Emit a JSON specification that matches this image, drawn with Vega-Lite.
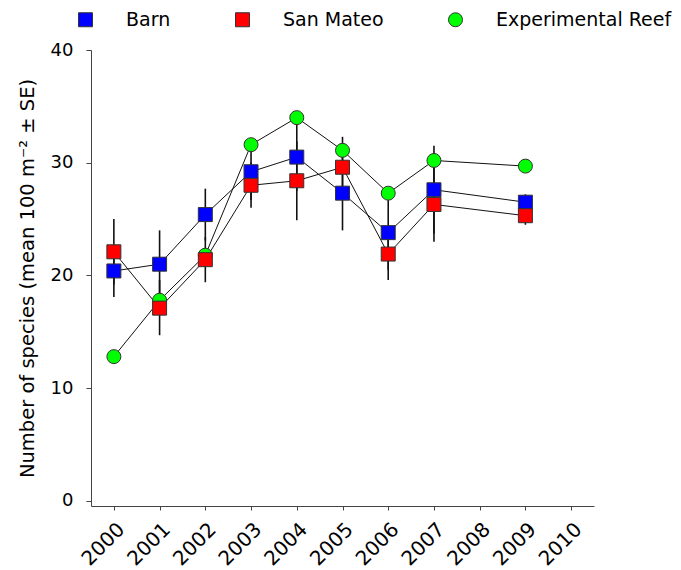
{
  "$schema": "https://vega.github.io/schema/vega-lite/v6.json",
  "autosize": "none",
  "width": 503,
  "height": 456,
  "padding": {"left": 91, "top": 50, "right": 87, "bottom": 64},
  "background": "white",
  "config": {
    "view": {"stroke": null},
    "font": "DejaVu Sans",
    "axis": {
      "grid": false,
      "domainColor": "#444444",
      "tickColor": "#444444",
      "labelColor": "#000000",
      "titleColor": "#000000",
      "labelFont": "DejaVu Sans",
      "titleFont": "DejaVu Sans",
      "titleFontWeight": "normal"
    }
  },
  "data": {
    "values": [
      {"site": "Experimental Reef", "year": 2000, "mean": 12.8},
      {"site": "Experimental Reef", "year": 2001, "mean": 17.8},
      {"site": "Experimental Reef", "year": 2002, "mean": 21.8},
      {"site": "Experimental Reef", "year": 2003, "mean": 31.6},
      {"site": "Experimental Reef", "year": 2004, "mean": 34.0},
      {"site": "Experimental Reef", "year": 2005, "mean": 31.1},
      {"site": "Experimental Reef", "year": 2006, "mean": 27.3},
      {"site": "Experimental Reef", "year": 2007, "mean": 30.2},
      {"site": "Experimental Reef", "year": 2009, "mean": 29.7},
      {"site": "Barn", "year": 2000, "mean": 20.4, "lo": 18.1, "hi": 22.7},
      {"site": "Barn", "year": 2001, "mean": 21.0, "lo": 18.0, "hi": 24.0},
      {"site": "Barn", "year": 2002, "mean": 25.4, "lo": 23.1, "hi": 27.7},
      {"site": "Barn", "year": 2003, "mean": 29.2, "lo": 26.7, "hi": 31.7},
      {"site": "Barn", "year": 2004, "mean": 30.5, "lo": 27.5, "hi": 33.5},
      {"site": "Barn", "year": 2005, "mean": 27.3, "lo": 24.0, "hi": 30.6},
      {"site": "Barn", "year": 2006, "mean": 23.8, "lo": 20.5, "hi": 27.1},
      {"site": "Barn", "year": 2007, "mean": 27.6, "lo": 23.7, "hi": 31.5},
      {"site": "Barn", "year": 2009, "mean": 26.5, "lo": 25.8, "hi": 27.2},
      {"site": "San Mateo", "year": 2000, "mean": 22.1, "lo": 19.2, "hi": 25.0},
      {"site": "San Mateo", "year": 2001, "mean": 17.1, "lo": 14.7, "hi": 19.6},
      {"site": "San Mateo", "year": 2002, "mean": 21.4, "lo": 19.4, "hi": 23.4},
      {"site": "San Mateo", "year": 2003, "mean": 28.0, "lo": 26.0, "hi": 30.0},
      {"site": "San Mateo", "year": 2004, "mean": 28.4, "lo": 24.9, "hi": 31.9},
      {"site": "San Mateo", "year": 2005, "mean": 29.6, "lo": 26.9, "hi": 32.3},
      {"site": "San Mateo", "year": 2006, "mean": 21.9, "lo": 19.6, "hi": 24.2},
      {"site": "San Mateo", "year": 2007, "mean": 26.3, "lo": 23.0, "hi": 29.6},
      {"site": "San Mateo", "year": 2009, "mean": 25.3, "lo": 24.5, "hi": 26.1}
    ]
  },
  "encoding": {
    "x": {
      "field": "year",
      "type": "quantitative",
      "scale": {"domain": [1999.5, 2010.5], "nice": false, "zero": false},
      "axis": {
        "title": null,
        "values": [2000, 2001, 2002, 2003, 2004, 2005, 2006, 2007, 2008, 2009, 2010],
        "format": "d",
        "labelAngle": -45,
        "labelAlign": "right",
        "labelBaseline": "top",
        "labelFontSize": 20,
        "labelPadding": 9,
        "tickSize": 4,
        "labelFlush": false,
        "labelOverlap": false
      }
    }
  },
  "layer": [
    {
      "mark": {"type": "line", "color": "#111111", "strokeWidth": 1},
      "encoding": {
        "y": {
          "field": "mean",
          "type": "quantitative",
          "scale": {"domain": [-0.45, 40], "nice": false, "zero": false},
          "axis": {
            "title": "Number of species (mean 100 m⁻² ± SE)",
            "values": [0, 10, 20, 30, 40],
            "labelFontSize": 18,
            "titleFontSize": 19.5,
            "tickSize": 5,
            "labelPadding": 13,
            "titleX": -58,
            "titleY": 228,
            "titleAngle": -90,
            "titleBaseline": "alphabetic",
            "titleAlign": "center"
          }
        },
        "detail": {"field": "site"}
      }
    },
    {
      "transform": [{"filter": "datum.lo != null"}],
      "mark": {"type": "rule", "color": "#111111", "strokeWidth": 1.6},
      "encoding": {
        "y": {"field": "lo", "type": "quantitative"},
        "y2": {"field": "hi"}
      }
    },
    {
      "mark": {"type": "point", "filled": true, "opacity": 1, "stroke": "#333333", "strokeWidth": 1},
      "encoding": {
        "y": {"field": "mean", "type": "quantitative"},
        "color": {
          "field": "site",
          "type": "nominal",
          "scale": {
            "domain": ["Barn", "San Mateo", "Experimental Reef"],
            "range": ["#0000ff", "#ff0000", "#00ff00"]
          },
          "legend": {
            "title": null,
            "orient": "none",
            "direction": "horizontal",
            "legendX": -15,
            "legendY": -40,
            "labelFontSize": 19,
            "labelFont": "DejaVu Sans",
            "labelColor": "#000000",
            "labelLimit": 300,
            "labelOffset": 31,
            "columnPadding": 62,
            "symbolSize": 169,
            "symbolStrokeColor": "#333333",
            "symbolStrokeWidth": 1,
            "padding": 0
          }
        },
        "shape": {
          "field": "site",
          "type": "nominal",
          "scale": {
            "domain": ["Barn", "San Mateo", "Experimental Reef"],
            "range": ["square", "square", "circle"]
          },
          "legend": null
        },
        "size": {
          "field": "site",
          "type": "nominal",
          "scale": {
            "domain": ["Barn", "San Mateo", "Experimental Reef"],
            "range": [196, 196, 240]
          },
          "legend": null
        }
      }
    }
  ]
}
